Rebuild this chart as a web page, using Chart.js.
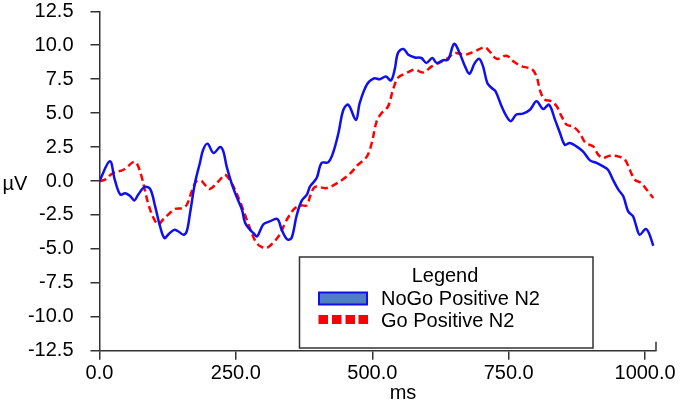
<!DOCTYPE html>
<html lang="en">
<head>
<meta charset="UTF-8">
<title>NoGo / Go Positive N2</title>
<style>
  body { margin: 0; padding: 0; background: #fff; }
  #wrap { width: 685px; height: 405px; }
</style>
</head>
<body>
<div id="wrap"><canvas id="erp" width="685" height="405"></canvas></div>
<script src="https://cdn.jsdelivr.net/npm/chart.js"></script>
<script>
// time points (ms) and amplitudes (µV)
const nogoMs = [0, 19, 28, 38, 47, 56, 64, 71, 83, 93, 102, 111, 119, 127, 137, 144, 154, 160, 166, 175,
  184, 190, 198, 209, 221, 227, 233, 242, 251, 261, 267, 276, 282, 289, 300, 312, 326, 334, 344, 352,
  361, 370, 380, 386, 398, 407, 419, 428, 438, 447, 456, 470, 477, 490, 503, 514, 525, 534, 541, 547,
  557, 566, 578, 590, 599, 610, 618, 630, 639, 650, 660, 670, 678, 688, 696, 703, 711, 719, 726, 737,
  746, 754, 764, 776, 789, 801, 813, 824, 835, 844, 853, 862, 874, 886, 899, 911, 923, 932, 941, 951,
  960, 969, 978, 984, 990, 1001, 1007, 1015];
const nogoUv = [0, 1.45, 0.1, -1.0, -0.9, -1.1, -1.43, -1.0, -0.44, -0.6, -1.87, -3.35, -4.2, -3.9, -3.6, -3.7, -3.96, -3.7, -2.36, -0.15,
  1.33, 2.3, 2.75, 2.06, 2.5, 2.18, 1.08, -0.15, -1.13, -2.1, -3.1, -3.6, -3.83, -4.08, -3.2, -2.98, -2.8, -3.6, -4.3, -4.2,
  -2.6, -1.5, -1.0, -0.4, 0.22, 1.33, 1.37, 2.06, 3.54, 5.25, 5.62, 4.5, 5.75, 7.1, 7.56, 7.5, 7.7, 7.4, 8.2, 9.43,
  9.73, 9.3, 9.1, 9.06, 8.7, 9.06, 8.7, 8.9, 8.94, 10.1, 9.43, 8.44, 7.9, 8.7, 9.0, 8.44, 7.2, 6.85, 6.6, 5.5,
  4.76, 4.4, 4.9, 4.96, 5.25, 5.87, 5.3, 5.62, 4.5, 3.54, 2.67, 2.8, 2.55, 2.18, 1.52, 1.33, 1.08, 0.83, 0.1, -0.64,
  -1.13, -2.24, -2.6, -3.35, -3.96, -3.54, -3.83, -4.77];

const goMs = [0, 10, 25, 44, 62, 68, 77, 83, 89, 99, 108, 117, 129, 138, 152, 160, 169, 178, 187, 193,
  202, 221, 230, 242, 251, 261, 270, 279, 288, 297, 306, 318, 331, 340, 349, 358, 370, 380, 386, 395,
  416, 438, 459, 474, 490, 499, 508, 517, 529, 538, 547, 563, 578, 593, 609, 624, 639, 651, 670, 688,
  697, 706, 715, 728, 746, 761, 774, 792, 801, 808, 816, 828, 838, 847, 856, 868, 880, 891, 905, 914,
  923, 935, 951, 963, 972, 981, 993, 1003, 1015];
const goUv = [0, 0.1, 0.59, 0.83, 1.4, 1.33, 0.34, -0.64, -1.62, -2.73, -3.2, -2.8, -2.36, -2.06, -2.0, -1.75, -0.77, 0, 0, -0.27,
  -0.59, 0.1, 0.46, -0.15, -0.88, -1.87, -2.85, -3.83, -4.57, -4.86, -4.94, -4.57, -3.9, -3.1, -2.48, -2.0, -1.8, -1.8, -1.13, -0.44,
  -0.52, -0.1, 0.54, 1.2, 1.8, 2.8, 4.4, 5.0, 5.5, 6.73, 7.6, 7.96, 8.2, 8.0, 8.44, 8.74, 9.06, 9.43, 9.3, 9.55,
  9.73, 9.85, 9.55, 9.0, 9.23, 8.74, 8.44, 8.25, 7.7, 6.6, 6.0, 5.87, 5.5, 4.76, 4.15, 4.02, 3.54, 2.8, 2.55, 1.94,
  1.7, 1.86, 1.8, 1.57, 0.83, 0.1, -0.15, -0.64, -1.25];

const xTicks = [0, 250, 500, 750, 1000];
const yTicks = [-12.5, -10, -7.5, -5, -2.5, 0, 2.5, 5, 7.5, 10, 12.5];

const FONT = "'Liberation Sans', Arial, sans-serif";
const AXIS = '#333333';

function pts(xs, ys) {
  return xs.map((x, i) => ({ x: x, y: ys[i] }));
}

// extra bits: axis titles, right end mark and the boxed legend
const decor = {
  id: 'decor',
  afterDraw(chart) {
    const ctx = chart.ctx;
    const a = chart.chartArea;
    ctx.save();
    ctx.strokeStyle = AXIS;
    ctx.lineWidth = 1.5;
    ctx.beginPath();
    ctx.moveTo(a.right, a.bottom);
    ctx.lineTo(a.right, a.bottom - 9);
    ctx.stroke();

    ctx.fillStyle = '#000';
    ctx.font = '20px ' + FONT;
    ctx.textAlign = 'center';
    ctx.textBaseline = 'middle';
    ctx.fillText('µV', 15, 184);
    ctx.fillText('ms', 403, 393);

    // legend box
    ctx.strokeStyle = AXIS;
    ctx.lineWidth = 1.5;
    ctx.strokeRect(299.5, 257, 293.5, 91);
    ctx.fillText('Legend', 445, 276);

    ctx.textAlign = 'left';
    ctx.fillStyle = '#4f7fc0';
    ctx.fillRect(319, 292.5, 48, 12);
    ctx.strokeStyle = '#1010ee';
    ctx.lineWidth = 2;
    ctx.strokeRect(319, 292.5, 48, 12);
    ctx.fillStyle = '#000';
    ctx.fillText('NoGo Positive N2', 381, 299);

    ctx.fillStyle = '#ff0000';
    [318.5, 332, 345.5, 358.5].forEach(x => ctx.fillRect(x, 315, 9.5, 9));
    ctx.fillStyle = '#000';
    ctx.fillText('Go Positive N2', 381, 321);
    ctx.restore();
  }
};

new Chart(document.getElementById('erp'), {
  type: 'line',
  data: {
    datasets: [
      {
        label: 'NoGo Positive N2',
        data: pts(nogoMs, nogoUv),
        borderColor: '#1010ee',
        borderWidth: 2.5,
        pointRadius: 0,
        tension: 0.35,
        fill: false
      },
      {
        label: 'Go Positive N2',
        data: pts(goMs, goUv),
        borderColor: '#ff0000',
        borderWidth: 2.5,
        borderDash: [7, 4],
        pointRadius: 0,
        tension: 0.35,
        fill: false
      }
    ]
  },
  options: {
    responsive: false,
    animation: false,
    devicePixelRatio: 1,
    layout: { padding: { top: 0, right: 29, left: 0, bottom: 0 } },
    plugins: { legend: { display: false }, tooltip: { enabled: false } },
    scales: {
      x: {
        type: 'linear',
        min: 0,
        max: 1020,
        afterBuildTicks: s => { s.ticks = xTicks.map(v => ({ value: v })); },
        afterFit: s => { s.height = 54.3; },
        ticks: {
          color: '#000',
          font: { family: FONT, size: 20 },
          padding: 2,
          maxRotation: 0,
          callback: v => v.toFixed(1)
        },
        grid: { drawOnChartArea: false, tickLength: 9, color: AXIS, lineWidth: 1.5 },
        border: { color: AXIS, width: 1.5 }
      },
      y: {
        min: -12.5,
        max: 12.5,
        afterBuildTicks: s => { s.ticks = yTicks.map(v => ({ value: v })); },
        afterFit: s => { s.width = 99.5; s.paddingTop = 11.3; s.paddingBottom = 0; },
        ticks: {
          color: '#000',
          font: { family: FONT, size: 20 },
          padding: 17,
          callback: v => v.toFixed(1)
        },
        grid: { drawOnChartArea: false, tickLength: 9, color: AXIS, lineWidth: 1.5 },
        border: { color: AXIS, width: 1.5 }
      }
    }
  },
  plugins: [decor]
});
</script>
</body>
</html>
